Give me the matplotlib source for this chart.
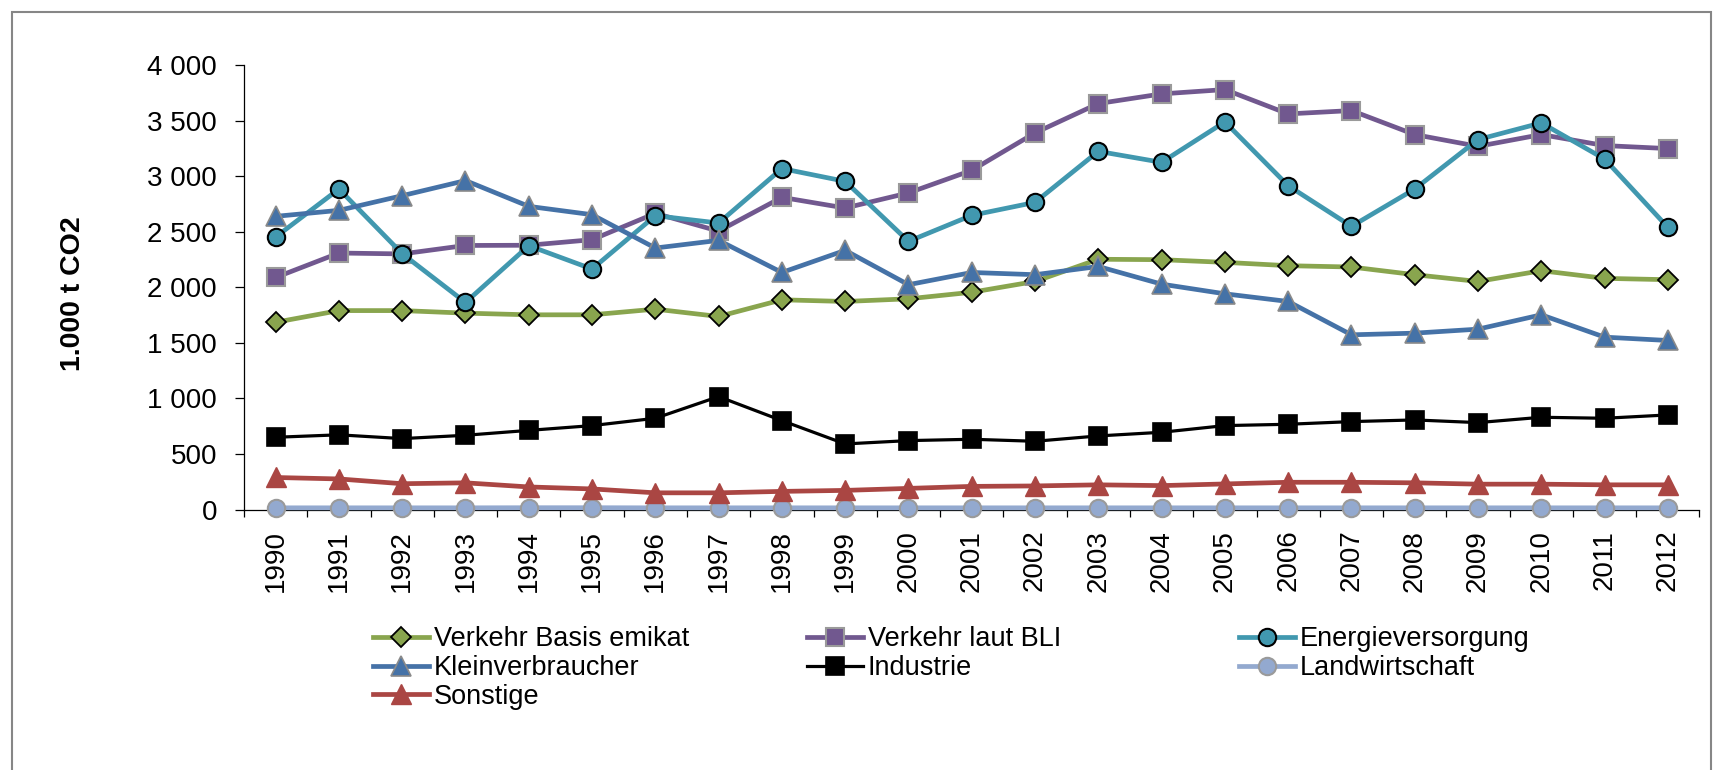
import matplotlib
matplotlib.use("Agg")
import matplotlib.pyplot as plt
from matplotlib.ticker import FuncFormatter, FixedLocator
from matplotlib.patches import Rectangle

plt.rcParams['font.family'] = ['Liberation Sans', 'DejaVu Sans']

years = [str(y) for y in range(1990, 2013)]

verkehr_emikat = [1685, 1790, 1790, 1767, 1752, 1752, 1803, 1737, 1887, 1872, 1896, 1955,
                  2052, 2252, 2248, 2224, 2194, 2182, 2113, 2052, 2149, 2080, 2068]
verkehr_bli = [2088, 2308, 2300, 2376, 2378, 2428, 2665, 2505, 2809, 2713, 2849, 3052,
               3389, 3653, 3740, 3779, 3560, 3590, 3374, 3268, 3374, 3275, 3248]
energie = [2452, 2884, 2302, 1863, 2374, 2164, 2644, 2578, 3068, 2953, 2413, 2647,
           2764, 3223, 3124, 3488, 2914, 2548, 2884, 3329, 3479, 3154, 2539]
klein = [2638, 2692, 2824, 2960, 2728, 2653, 2353, 2422, 2133, 2332, 2023, 2133,
         2113, 2187, 2028, 1941, 1872, 1572, 1587, 1623, 1752, 1551, 1521]
industrie = [650, 672, 638, 668, 712, 755, 821, 1016, 800, 590, 620, 632,
             614, 662, 695, 755, 767, 791, 806, 782, 830, 821, 851]
landwirtschaft = [15, 15, 15, 15, 16, 16, 15, 15, 15, 15, 15, 15,
                  15, 15, 15, 15, 15, 15, 15, 15, 15, 15, 15]
sonstige = [288, 275, 232, 240, 203, 185, 150, 150, 163, 172, 190, 208,
            212, 222, 215, 230, 245, 245, 240, 228, 228, 222, 222]

names = ["Verkehr Basis emikat", "Verkehr laut BLI", "Energieversorgung",
         "Kleinverbraucher", "Industrie", "Landwirtschaft", "Sonstige"]

W, H = 1720, 770
fig = plt.figure(figsize=(W / 100, H / 100), dpi=100)

# chart-area border
fig.patches.append(Rectangle((12 / W, -0.01), (1711 - 12) / W, 1 - 12 / H + 0.01,
                             transform=fig.transFigure, fill=False,
                             edgecolor='#868686', linewidth=1.5))

ax_l, ax_r, ax_t, ax_b = 244, 1699.5, 65, 509.5
ax = fig.add_axes([ax_l / W, 1 - ax_b / H, (ax_r - ax_l) / W, (ax_b - ax_t) / H])

x = list(range(len(years)))
styles = [
    dict(data=verkehr_emikat, color='#89A54E', marker='D', ms=9.8, mec='#000000', mew=1.3, lw=3.4),
    dict(data=verkehr_bli, color='#71588F', marker='s', ms=12.5, mec='#9A9A9A', mew=1.5, lw=3.4),
    dict(data=energie, color='#4198AF', marker='o', ms=12.5, mec='#000000', mew=1.5, lw=3.4),
    dict(data=klein, color='#4572A7', marker='^', ms=14, mec='#8A8A8A', mew=1.2, lw=3.4),
    dict(data=industrie, color='#000000', marker='s', ms=12.5, mec='#000000', mew=1.2, lw=2.3),
    dict(data=landwirtschaft, color='#93A9CF', marker='o', ms=12.5, mec='#9A9A9A', mew=1.5, lw=3.4),
    dict(data=sonstige, color='#AA4643', marker='^', ms=14, mec='#AA4643', mew=1.0, lw=3.4),
]
handles = []
for i, (name, st) in enumerate(zip(names, styles)):
    h, = ax.plot(x, st['data'], color=st['color'], marker=st['marker'], markersize=st['ms'],
                 markerfacecolor=st['color'], markeredgecolor=st['mec'],
                 markeredgewidth=st['mew'], linewidth=st['lw'], label=name,
                 clip_on=False, zorder=3 + i, solid_joinstyle='round')
    handles.append(h)

ax.set_xlim(-0.5, len(years) - 0.5)
ax.set_ylim(0, 4000)
for s in ['top', 'right']:
    ax.spines[s].set_visible(False)
for s in ['left', 'bottom']:
    ax.spines[s].set_color('#000000')
    ax.spines[s].set_linewidth(0.9)

ax.set_yticks(range(0, 4001, 500))
ax.yaxis.set_major_formatter(FuncFormatter(lambda v, p: f"{int(v):,}".replace(",", " ")))
ax.tick_params(axis='y', direction='out', length=6.5, width=0.9, pad=13, labelsize=20)

ax.set_xticks(x)
ax.set_xticklabels(years, rotation=90, fontsize=20)
ax.tick_params(axis='x', which='major', length=0, pad=14.5)
ax.xaxis.set_minor_locator(FixedLocator([v - 0.5 for v in range(len(years) + 1)]))
ax.tick_params(axis='x', which='minor', direction='out', length=5.2, width=0.9)

fig.text(73 / W, 1 - 294 / H, "1.000 t CO2", rotation=90, ha='center', va='center',
         fontsize=20.5, fontweight='bold')

# legend in three columns (row-major order as in the reference)
cols = [[0, 3, 6], [1, 4], [2, 5]]
col_x = [373, 807, 1239]
for cx, idxs in zip(col_x, cols):
    leg = fig.legend([handles[i] for i in idxs], [names[i] for i in idxs],
                     loc='upper left', bbox_to_anchor=(cx / W, 1 - 626 / H),
                     bbox_transform=fig.transFigure, frameon=False, fontsize=19.5,
                     handlelength=2.05, handletextpad=0.2, labelspacing=0.11,
                     borderpad=0, borderaxespad=0)

fig.savefig("out.png", dpi=100)
